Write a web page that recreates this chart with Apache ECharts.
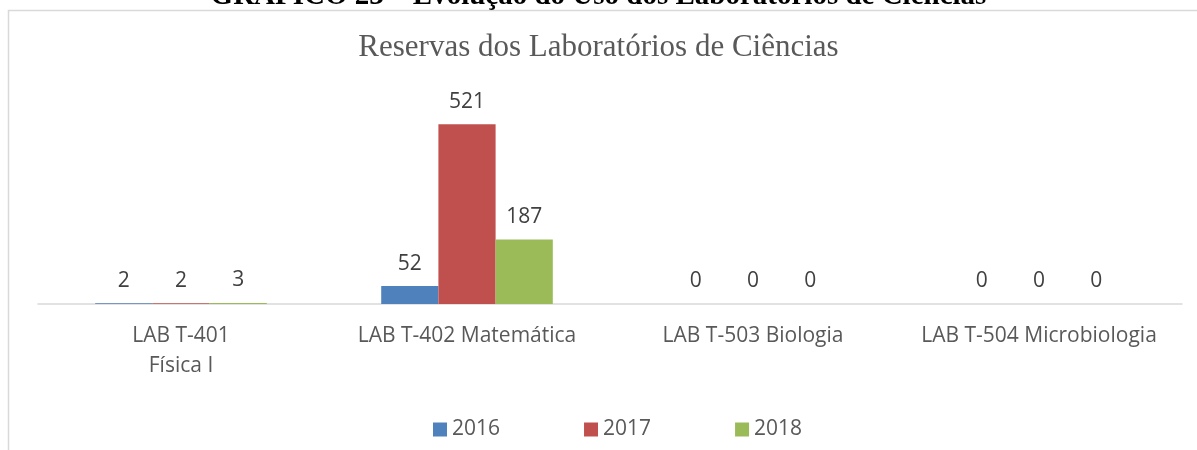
<!DOCTYPE html>
<html>
<head>
<meta charset="utf-8">
<script src="https://cdn.jsdelivr.net/npm/echarts@6/dist/echarts.min.js"></script>
<style>
html,body{margin:0;padding:0;background:#fff;}
#c{width:1197px;height:450px;}
</style>
</head>
<body>
<div id="c"></div>
<script>
const categories = ['LAB T-401\nFísica I', 'LAB T-402 Matemática', 'LAB T-503 Biologia', 'LAB T-504 Microbiologia'];
const seriesNames = ['2016', '2017', '2018'];
const values2016 = [2, 52, 0, 0];
const values2017 = [2, 521, 0, 0];
const values2018 = [3, 187, 0, 0];
const colors = ['#4f81bd', '#c0504d', '#9bbb59'];
const pageTitle = 'GRÁFICO 23 – Evolução do Uso dos Laboratórios de Ciências';
const chartTitle = 'Reservas dos Laboratórios de Ciências';

const chart = echarts.init(document.getElementById('c'), null, {renderer: 'canvas'});
const allValues = [values2016, values2017, values2018];
chart.setOption({
  animation: false,
  backgroundColor: '#ffffff',
  title: {
    text: chartTitle,
    left: 'center',
    top: 27,
    textStyle: {fontFamily: 'Liberation Serif', fontWeight: 'normal', fontSize: 31, color: '#595959'}
  },
  graphic: [
    {type: 'rect', shape: {x: 8.5, y: 10.5, width: 1300, height: 500}, style: {fill: 'none', stroke: '#d9d9d9', lineWidth: 1.5}, z: 0},
    {type: 'text', left: 'center', top: -18, style: {text: pageTitle, font: 'bold 29px "Liberation Serif"', fill: '#000'}}
  ],
  legend: {
    bottom: 5,
    left: 428,
    itemWidth: 14,
    itemHeight: 14,
    itemGap: 84,
    icon: 'rect',
    textStyle: {fontFamily: 'Open Sans', fontSize: 21, color: '#595959'},
    data: seriesNames
  },
  grid: {left: 38, right: 15, top: 97, bottom: 146, containLabel: false},
  xAxis: {
    type: 'category',
    data: categories,
    axisLine: {lineStyle: {color: '#d9d9d9', width: 1.5}},
    axisTick: {show: false},
    axisLabel: {fontFamily: 'Open Sans', fontSize: 21, color: '#595959', margin: 17, lineHeight: 30, interval: 0}
  },
  yAxis: {type: 'value', min: 0, max: 600, show: false, splitLine: {show: false}},
  series: seriesNames.map((n, i) => ({
    name: n,
    type: 'bar',
    data: allValues[i],
    barGap: '0%',
    barCategoryGap: '40%',
    itemStyle: {color: colors[i]},
    label: {show: true, position: 'top', distance: 12, fontFamily: 'Open Sans', fontSize: 21, color: '#404040'}
  }))
});
</script>
</body>
</html>
